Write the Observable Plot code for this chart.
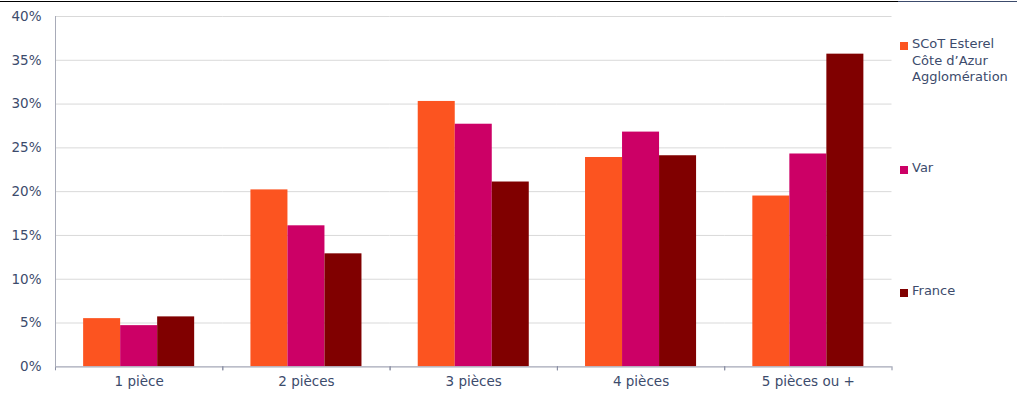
<!DOCTYPE html>
<html><head><meta charset="utf-8">
<script src="https://cdn.jsdelivr.net/npm/d3@7"></script>
<script src="https://cdn.jsdelivr.net/npm/@observablehq/plot@0.6"></script>
<style>
body{margin:0;background:#fff;font-family:"DejaVu Sans",Verdana,sans-serif;}
#wrap{position:relative;width:1017px;height:394px;overflow:hidden;}
#chart svg{display:block;}
.topline{position:absolute;top:1px;height:1px;}
.leg{position:absolute;left:900px;display:flex;align-items:flex-start;font-size:13px;line-height:16.7px;color:#3c4b6c;}
.leg .sw{width:8px;height:8px;margin-top:5.5px;margin-right:4px;flex:none;}
</style></head><body>
<div id="wrap">
<div class="topline" style="left:0;width:898px;background:#000"></div>
<div class="topline" style="left:898px;width:119px;background:#3c4b6c"></div>
<div id="chart"></div>
<div id="legend"></div>
</div>
<script>
const categories = ["1 pièce", "2 pièces", "3 pièces", "4 pièces", "5 pièces ou +"];
const seriesNames = ["SCoT Esterel Côte d’Azur Agglomération", "Var", "France"];
const legendLines = [["SCoT Esterel", "Côte d’Azur", "Agglomération"], ["Var"], ["France"]];
const scotValues = [5.5, 20.2, 30.3, 23.9, 19.5];
const varValues = [4.7, 16.1, 27.7, 26.8, 24.3];
const franceValues = [5.7, 12.9, 21.1, 24.1, 35.7];
const yTicks = [0, 5, 10, 15, 20, 25, 30, 35, 40];
const colors = ["#fc5420", "#cc0066", "#800000"];

const seriesValues = [scotValues, varValues, franceValues];
const rows = categories.flatMap((c, i) => seriesNames.map((s, j) => ({cat: c, series: s, value: seriesValues[j][i]})));

const W = 1017, H = 394, mL = 55, mR = 125.5, mT = 16, mB = 27.7;
const step = (W - mL - mR) / categories.length;
const textColor = "#3c4b6c";

const chart = Plot.plot({
  width: W, height: H,
  marginLeft: mL, marginRight: mR, marginTop: mT, marginBottom: mB,
  style: {fontFamily: "'DejaVu Sans', Verdana, sans-serif", fontSize: "13.5px", color: textColor, background: "transparent"},
  fx: {domain: categories, padding: 0, round: false, label: null},
  x: {domain: seriesNames, paddingInner: 0, paddingOuter: 0.76, round: false, axis: null},
  y: {domain: [0, 40], label: null},
  color: {domain: seriesNames, range: colors},
  marks: [
    Plot.gridY(yTicks, {stroke: "#d9d9d9", strokeOpacity: 1}),
    Plot.barY(rows, {fx: "cat", x: "series", y: "value", fill: "series", insetLeft: 0, insetRight: 0}),
    Plot.ruleY([0], {stroke: "#aeb1c0", strokeWidth: 1.3}),
    Plot.axisY(yTicks, {tickSize: 0, tickPadding: 14, tickFormat: d => d + "%", label: null, fill: textColor}),
    Plot.axisFx({anchor: "bottom", tickSize: 0, tickPadding: 10, label: null, fill: textColor}),
    Plot.axisFx({anchor: "bottom", tickSize: 4, tickFormat: () => "", dx: step / 2, label: null, stroke: "#8a8fa3"}),
    Plot.axisFx({anchor: "bottom", tickSize: 4, tickFormat: () => "", dx: -step / 2, label: null, stroke: "#8a8fa3"}),
    Plot.frame({anchor: "left", facet: "super", stroke: "#a8abb8"})
  ]
});
document.getElementById("chart").appendChild(chart);

const legendTops = [36, 160, 283];
const legend = document.getElementById("legend");
legendLines.forEach((lines, i) => {
  const item = document.createElement("div");
  item.className = "leg";
  item.style.top = legendTops[i] + "px";
  const sw = document.createElement("span");
  sw.className = "sw";
  sw.style.background = colors[i];
  const txt = document.createElement("span");
  txt.innerHTML = lines.join("<br>");
  item.appendChild(sw);
  item.appendChild(txt);
  legend.appendChild(item);
});
</script>
</body></html>
